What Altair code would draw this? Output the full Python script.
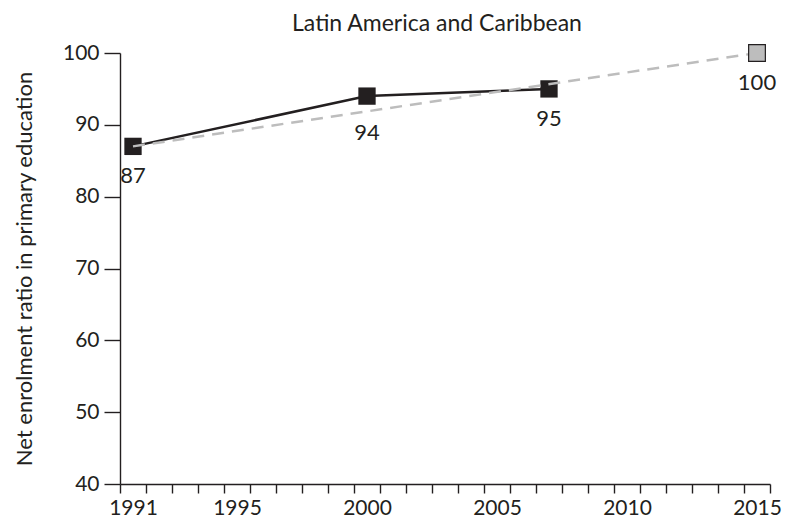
import altair as alt
import pandas as pd

# Data
years_all = list(range(1991, 2016))
label_years = [1991, 1995, 2000, 2005, 2010, 2015]
obs_years = [1991, 2000, 2007]
obs_values = [87, 94, 95]
target_years = [1991, 2015]
target_values = [87, 100]
text_years = [1991, 2000, 2007, 2015]
text_values = [87, 94, 95, 100]
text_labels = ["87", "94", "95", "100"]
y_ticks = [40, 50, 60, 70, 80, 90, 100]

obs = pd.DataFrame({"year": obs_years, "value": obs_values})
target = pd.DataFrame({"year": target_years, "value": target_values})
target_pt = pd.DataFrame({"year": [target_years[-1]], "value": [target_values[-1]]})
texts = pd.DataFrame({"year": text_years, "value": text_values, "label": text_labels})

DARK = "#231f20"
GREY = "#bdbdbd"
FONT = "Lato"

label_list = "[" + ",".join(str(y) for y in label_years) + "]"

x_enc = alt.X(
    "year:O",
    scale=alt.Scale(type="band", domain=years_all, paddingInner=0, paddingOuter=0),
    axis=alt.Axis(
        title=None,
        tickBand="extent",
        labelExpr=f"indexof({label_list}, datum.value) >= 0 ? datum.label : ''",
        labelAngle=0,
        tickSize=9,
        labelPadding=4,
    ),
)
y_enc = alt.Y(
    "value:Q",
    scale=alt.Scale(domain=[40, 100], nice=False, zero=False),
    axis=alt.Axis(
        title="Net enrolment ratio in primary education",
        values=y_ticks,
        tickSize=16,
        labelPadding=5,
        titlePadding=26,
    ),
)

solid = alt.Chart(obs).mark_line(color=DARK, strokeWidth=2.5).encode(x=x_enc, y=y_enc)
markers = alt.Chart(obs).mark_square(size=300, color=DARK, opacity=1, filled=True).encode(x=x_enc, y=y_enc)
dashed = alt.Chart(target).mark_line(color=GREY, strokeWidth=2.5, strokeDash=[12, 8]).encode(x=x_enc, y=y_enc)
tmark = alt.Chart(target_pt).mark_square(size=280, fill=GREY, stroke=DARK, strokeWidth=1.2, opacity=1, filled=True).encode(x=x_enc, y=y_enc)
labels = (
    alt.Chart(texts)
    .mark_text(dy=30, fontSize=22, font=FONT, color=DARK)
    .encode(x=x_enc, y=y_enc, text="label:N")
    .transform_filter("datum.label != '94'")
)
labels94 = (
    alt.Chart(texts)
    .mark_text(dy=37, fontSize=22, font=FONT, color=DARK)
    .encode(x=x_enc, y=y_enc, text="label:N")
    .transform_filter("datum.label == '94'")
)

chart = (
    alt.layer(solid, markers, dashed, tmark, labels, labels94)
    .properties(
        width=650,
        height=431,
        title=alt.TitleParams(
            "Latin America and Caribbean",
            fontSize=23,
            font=FONT,
            fontWeight="normal",
            color=DARK,
            anchor="middle",
            frame="group",
            dx=-8,
            offset=6,
        ),
        autosize=alt.AutoSizeParams(type="none"),
        padding={"left": 112, "top": 45, "right": 14, "bottom": 36},
    )
    .configure_view(stroke=None)
    .configure_axis(
        grid=False,
        domainColor=DARK,
        tickColor=DARK,
        domainWidth=1.4,
        tickWidth=1.4,
        labelFont=FONT,
        labelFontSize=21,
        labelColor=DARK,
        titleFont=FONT,
        titleFontSize=22,
        titleFontWeight="normal",
        titleColor=DARK,
    )
)

chart.save("out.html", embed_options={"renderer": "svg", "actions": False})
